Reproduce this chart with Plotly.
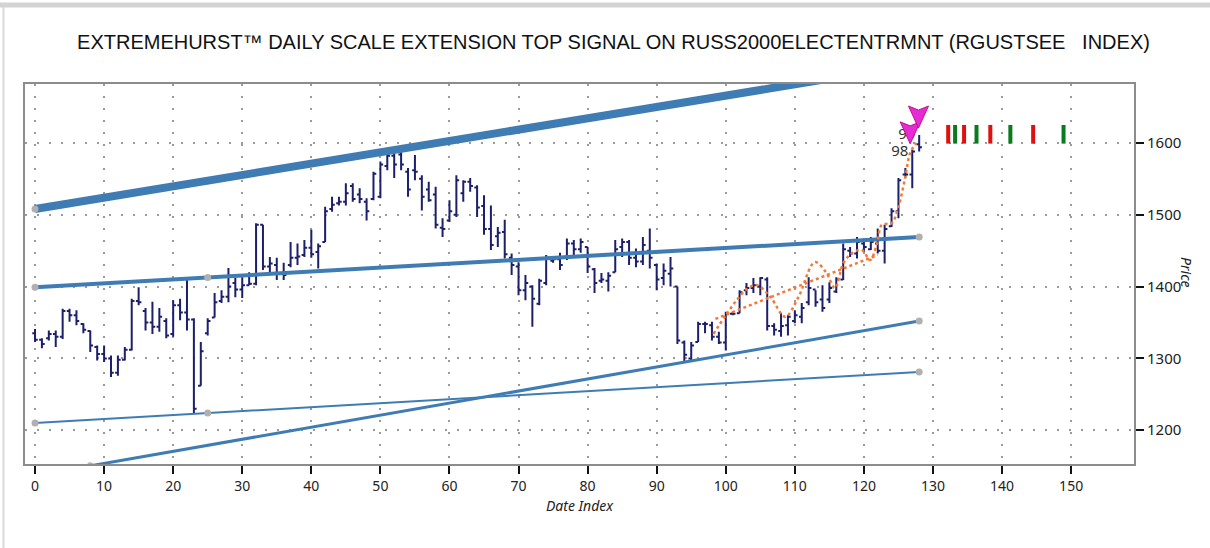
import plotly.graph_objects as go

# ---------------- data ----------------
bar_idx = list(range(129))
opens = [1335,1326,1328,1334,1330,1366,1360,1348,1338,1316,1306,1300,1280,1298,1312,1380,1366,1350,1344,1352,
         1334,1374,1364,1354,1262,1335,1357,1380,1386,1405,1396,1402,1404,1486,1428,1430,1418,1430,1440,1444,
         1454,1448,1462,1508,1516,1518,1540,1528,1518,1522,1525,1568,1582,1584,1560,1562,1550,1535,1528,1482,
         1492,1500,1530,1546,1538,1512,1480,1470,1476,1440,1428,1395,1400,1376,1405,1436,1438,1440,1460,1452,
         1455,1424,1408,1408,1420,1455,1462,1440,1435,1450,1430,1412,1418,1400,1322,1300,1323,1348,1346,1330,
         1322,1362,1363,1395,1398,1400,1410,1345,1338,1346,1352,1358,1378,1396,1382,1382,1393,1410,1450,1446,
         1460,1452,1460,1450,1484,1505,1556,1556,1598]
highs = [1341,1328,1339,1339,1369,1369,1367,1349,1339,1318,1318,1304,1304,1316,1383,1399,1370,1379,1370,1356,
         1381,1383,1409,1356,1323,1356,1391,1395,1426,1412,1413,1420,1488,1486,1441,1440,1433,1462,1460,1465,
         1479,1460,1511,1525,1525,1544,1544,1537,1523,1560,1574,1586,1588,1588,1565,1583,1555,1546,1539,1495,
         1520,1555,1548,1551,1541,1527,1513,1483,1493,1446,1434,1416,1402,1411,1444,1440,1447,1467,1465,1467,
         1455,1426,1419,1420,1465,1467,1465,1453,1469,1481,1432,1432,1441,1400,1325,1323,1351,1351,1351,1337,
         1365,1365,1395,1405,1412,1413,1413,1349,1363,1360,1367,1377,1413,1395,1402,1406,1413,1460,1455,1469,
         1467,1469,1481,1486,1509,1551,1565,1590,1611]
lows = [1323,1314,1325,1316,1327,1351,1346,1335,1309,1297,1295,1274,1276,1297,1311,1374,1339,1334,1337,1328,
        1330,1353,1339,1223,1262,1332,1357,1377,1378,1385,1384,1402,1402,1423,1420,1409,1409,1427,1430,1441,
        1440,1425,1462,1504,1513,1513,1518,1516,1492,1520,1523,1562,1551,1562,1525,1548,1506,1518,1481,1469,
        1490,1497,1518,1532,1497,1472,1451,1455,1439,1416,1388,1381,1344,1374,1402,1433,1423,1437,1440,1447,
        1419,1391,1405,1393,1420,1441,1430,1427,1430,1425,1395,1402,1400,1320,1295,1297,1323,1335,1325,1320,
        1311,1360,1363,1388,1391,1388,1339,1332,1330,1332,1349,1349,1374,1372,1365,1377,1391,1409,1441,1439,
        1448,1451,1446,1432,1483,1495,1551,1537,1588]
closes = [1326,1320,1334,1330,1366,1360,1352,1340,1318,1306,1300,1280,1298,1312,1380,1378,1350,1344,1358,1332,
          1374,1364,1354,1230,1310,1352,1378,1386,1400,1396,1402,1404,1486,1428,1432,1418,1416,1440,1442,1454,
          1445,1456,1505,1514,1518,1530,1522,1522,1505,1557,1570,1582,1570,1570,1535,1560,1525,1520,1486,1480,
          1505,1548,1546,1540,1510,1480,1458,1475,1445,1430,1395,1405,1383,1408,1440,1438,1430,1460,1452,1462,
          1428,1405,1410,1415,1452,1462,1440,1435,1458,1440,1410,1422,1425,1325,1305,1318,1348,1348,1330,1322,
          1362,1362,1392,1398,1402,1412,1345,1340,1345,1358,1360,1370,1398,1378,1370,1398,1410,1452,1446,1462,
          1455,1462,1450,1480,1505,1548,1556,1588,1594]

# trend lines (values at x = 0 and x = 128)
line_x = [0, 128]
thick_y = [1508, 1710]
mid_y = [1399, 1469]
steep_y = [1137, 1352]
thin_y = [1210, 1281]
anchor_x = [0, 25, 128]

# dotted cycle / regression overlays
wave_x = [98.2, 100, 101.5, 103, 104.5, 106.5, 108.6, 110.5, 112.9, 114.5, 115.8, 117, 118.2, 119.7, 120.9,
          121.9, 122.6, 124, 125, 126, 126.7, 127.6]
wave_y = [1334, 1360, 1380, 1396, 1402, 1385, 1358, 1385, 1434, 1420, 1398, 1432, 1446, 1451, 1437,
          1460, 1486, 1488, 1511, 1553, 1586, 1600]
reg_x = [98.5, 122]
reg_y = [1355, 1444]

# signals
arrow_x = [126.7, 127.9]
arrow_y = [1614, 1636]
label_x = [125.2, 126.2]
label_y = [1587, 1611]
label_txt = ["98", "99"]

red_x = [132.2, 134.5, 138.3, 144.5]
green_x = [133.2, 136.3, 141.2, 148.9]
sig_lo, sig_hi = 1599, 1625

x_ticks = list(range(0, 151, 10))
y_ticks = [1200, 1300, 1400, 1500, 1600]

# ---------------- style ----------------
NAVY = "#1c1f6b"
BLUE = "#3f7cb4"
GRAYM = "#b0b0b0"
X_RANGE = [-1.45, 159.1]
Y_RANGE = [1153, 1682]
PLOT_W, PLOT_H = 1109, 380
PX_X = PLOT_W / (X_RANGE[1] - X_RANGE[0])   # pixels per x unit
PX_Y = PLOT_H / (Y_RANGE[1] - Y_RANGE[0])   # pixels per y unit
ARW_HALF_W, ARW_TOP, ARW_BOT, ARW_NOTCH = 10, 11, 11, 4  # arrowhead geometry in px

fig = go.Figure()

fig.add_trace(go.Ohlc(
    x=bar_idx, open=opens, high=highs, low=lows, close=closes,
    increasing=dict(line=dict(color=NAVY, width=2)),
    decreasing=dict(line=dict(color=NAVY, width=2)),
    tickwidth=0.4, hoverinfo="skip", showlegend=False))

def tline(y, width, mx):
    ys = [y[0] + (y[1] - y[0]) * (m - line_x[0]) / (line_x[1] - line_x[0]) for m in mx]
    fig.add_trace(go.Scatter(x=line_x, y=y, mode="lines",
                             line=dict(color=BLUE, width=width), showlegend=False, hoverinfo="skip"))
    fig.add_trace(go.Scatter(x=mx, y=ys, mode="markers",
                             marker=dict(color=GRAYM, size=7), showlegend=False, hoverinfo="skip"))

tline(thick_y, 8, [0])
tline(mid_y, 4, anchor_x)
tline(steep_y, 3, [8, 128])
tline(thin_y, 2, anchor_x)

fig.add_trace(go.Scatter(x=reg_x, y=reg_y, mode="lines",
                         line=dict(color="#f07a3a", width=2.5, dash="dot"), showlegend=False, hoverinfo="skip"))
fig.add_trace(go.Scatter(x=wave_x, y=wave_y, mode="lines",
                         line=dict(color="#f07a3a", width=2.5, dash="dot", shape="spline"),
                         showlegend=False, hoverinfo="skip"))

def vbars(xs, color):
    px, py = [], []
    for x in xs:
        px += [x, x, None]
        py += [sig_lo, sig_hi, None]
    fig.add_trace(go.Scatter(x=px, y=py, mode="lines", line=dict(color=color, width=4),
                             showlegend=False, hoverinfo="skip"))

vbars(red_x, "#e01010")
vbars(green_x, "#0b7a1e")

fig.add_trace(go.Scatter(x=label_x, y=label_y, mode="text", text=label_txt,
                         textfont=dict(family="Noto Sans", size=15, color="#333333"),
                         showlegend=False, hoverinfo="skip"))

# notched downward arrowheads, geometry converted from pixels to data units
for ax, ay in zip(arrow_x, arrow_y):
    dx = ARW_HALF_W / PX_X
    xs = [ax - dx, ax, ax + dx, ax, ax - dx]
    ys = [ay + ARW_TOP / PX_Y, ay + (ARW_TOP - ARW_NOTCH) / PX_Y, ay + ARW_TOP / PX_Y,
          ay - ARW_BOT / PX_Y, ay + ARW_TOP / PX_Y]
    fig.add_trace(go.Scatter(x=xs, y=ys, mode="lines", fill="toself", fillcolor="#e62ad6",
                             line=dict(color="#c0148f", width=1), showlegend=False, hoverinfo="skip"))

fig.update_layout(
    width=1210, height=548,
    paper_bgcolor="white", plot_bgcolor="white",
    margin=dict(l=25, r=76, t=84, b=84),
    title=dict(text="EXTREMEHURST™ DAILY SCALE EXTENSION TOP SIGNAL ON RUSS2000ELECTENTRMNT (RGUSTSEE   INDEX)",
               x=0.507, xanchor="center", y=1 - 42 / 548, yanchor="middle",
               font=dict(family="Liberation Sans", size=20, color="#111111")),
    xaxis=dict(range=X_RANGE, tickvals=x_ticks, ticks="outside", ticklen=8, tickwidth=2,
               tickcolor="#111111", showline=True, mirror=True, linecolor="#8c8c8c", linewidth=2,
               showgrid=True, gridcolor="#9a9a9a", gridwidth=2, griddash="2px,10px",
               zeroline=False, rangeslider=dict(visible=False),
               tickfont=dict(family="Noto Sans", size=14, color="#222222")),
    yaxis=dict(range=Y_RANGE, tickvals=y_ticks, side="right", ticks="outside", ticklen=8,
               tickwidth=2, tickcolor="#111111", showline=True, mirror=True, linecolor="#8c8c8c",
               linewidth=2, showgrid=True, gridcolor="#9a9a9a", gridwidth=2, griddash="2px,10px",
               zeroline=False, tickfont=dict(family="Noto Sans", size=15, color="#222222")),
    annotations=[
        dict(text="<i>Date Index</i>", xref="paper", yref="paper", x=0.5, y=-0.11, showarrow=False,
             font=dict(family="Noto Sans", size=14, color="#222222"), xanchor="center", yanchor="middle"),
        dict(text="<i>Price</i>", xref="paper", yref="paper", x=1.0478, y=0.505, showarrow=False,
             textangle=90, font=dict(family="Noto Sans", size=14, color="#222222"),
             xanchor="center", yanchor="middle"),
    ],
    shapes=[
        dict(type="line", xref="paper", yref="paper", x0=-25 / PLOT_W, x1=1 + 76 / PLOT_W,
             y0=1 + 79 / PLOT_H, y1=1 + 79 / PLOT_H, line=dict(color="#d3d3d3", width=5)),
        dict(type="line", xref="paper", yref="paper", x0=-21.5 / PLOT_W, x1=-21.5 / PLOT_W,
             y0=-84 / PLOT_H, y1=1 + 77 / PLOT_H, line=dict(color="#dadada", width=2)),
    ],
)

fig.write_html("out.html", config={"displayModeBar": False},
               post_script="document.body.style.margin='0px';")
